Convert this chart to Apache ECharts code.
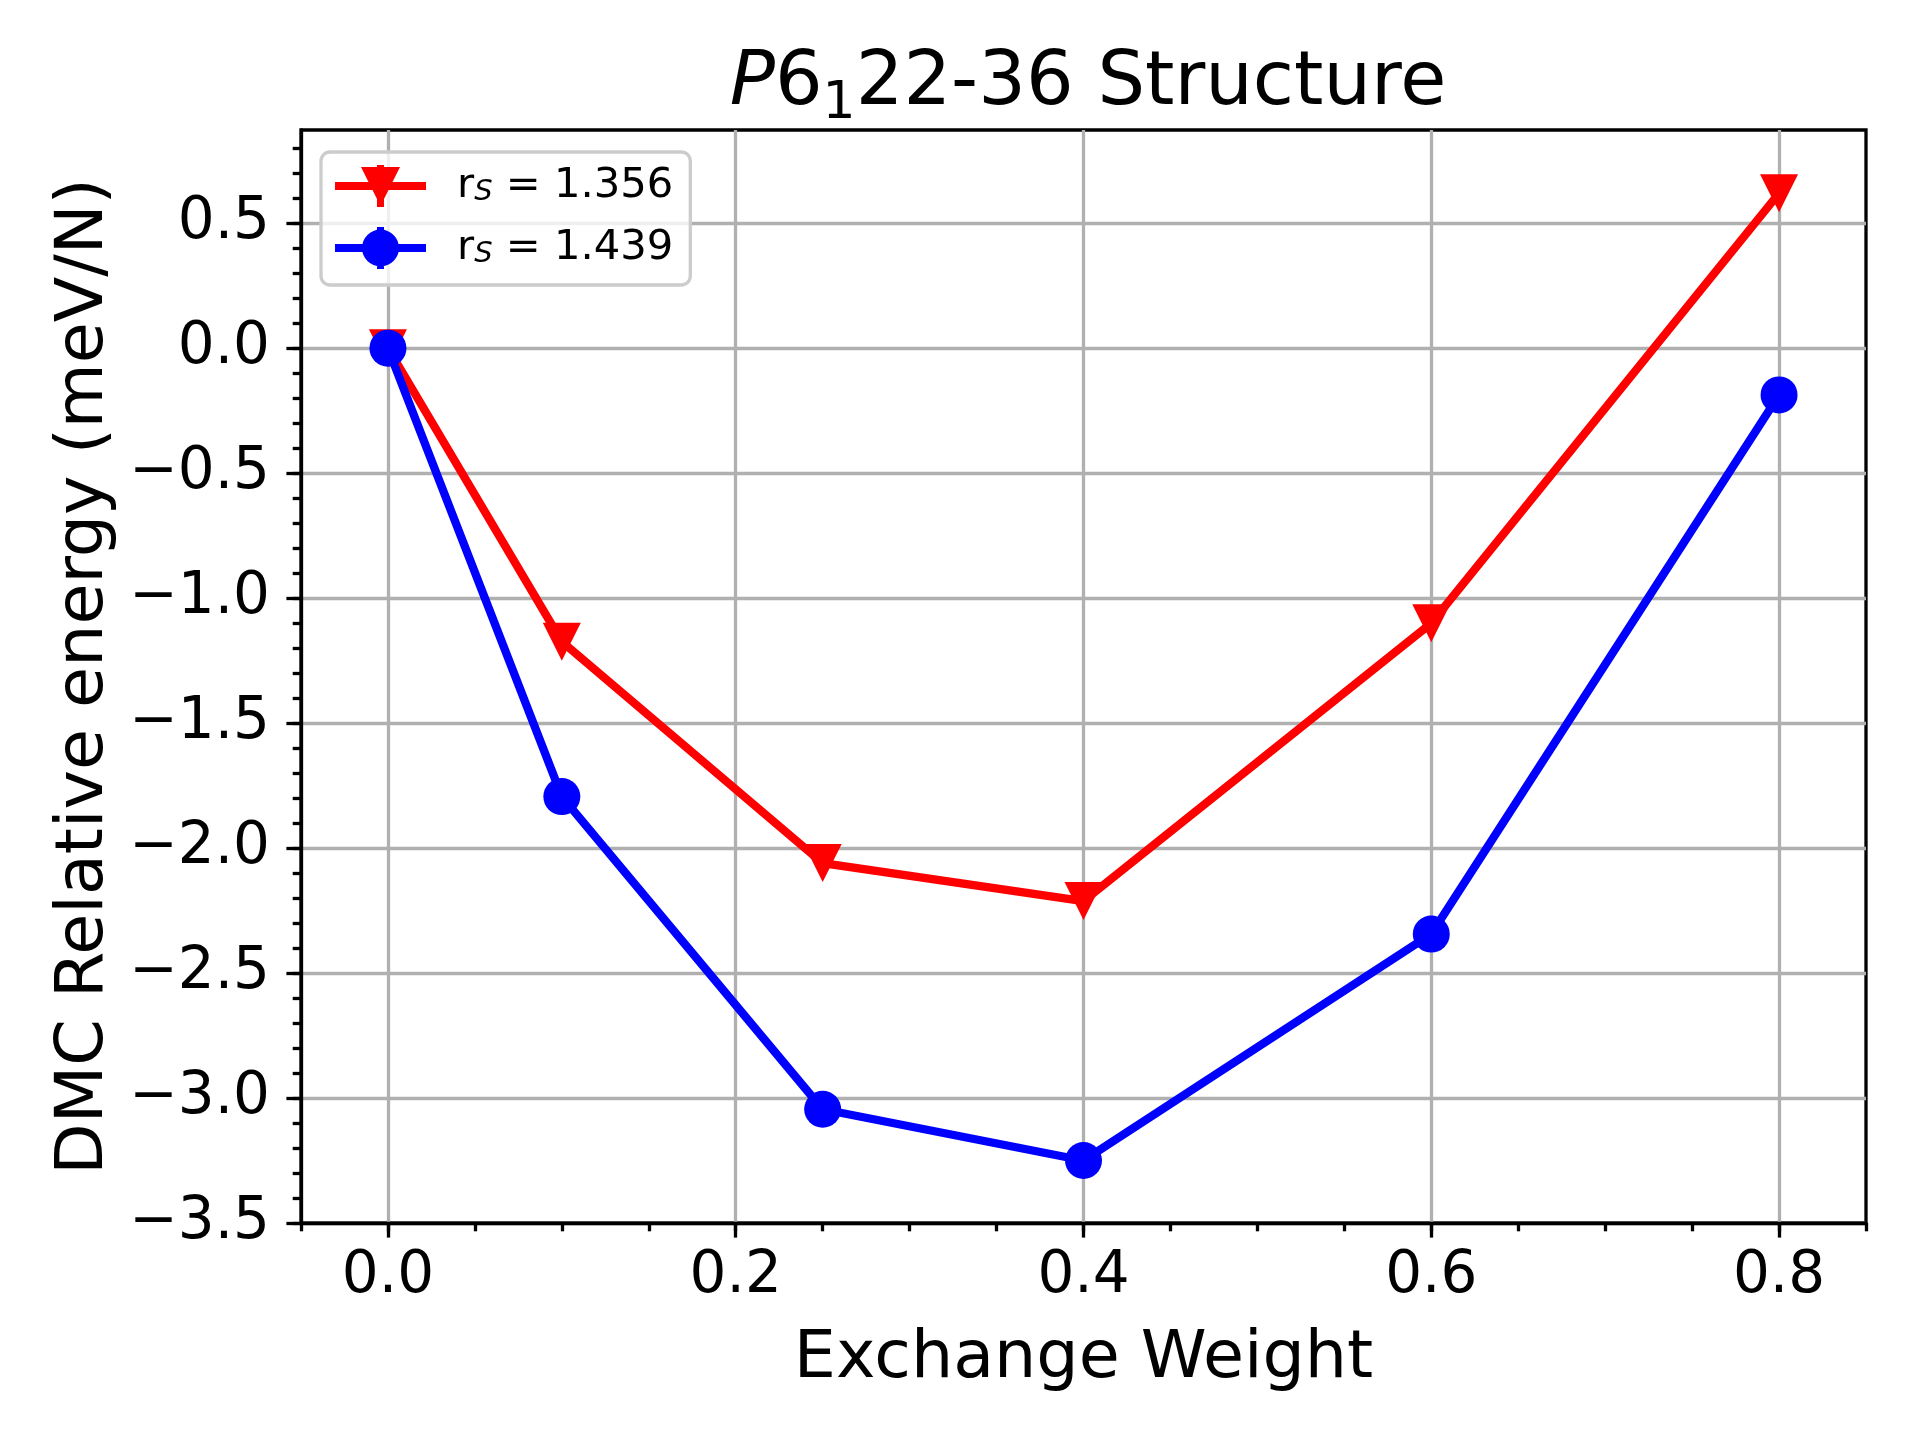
<!DOCTYPE html>
<html>
<head>
<meta charset="utf-8">
<script src="https://cdn.jsdelivr.net/npm/echarts@6/dist/echarts.min.js"></script>
<style>html,body{margin:0;padding:0;background:#fff}#c{width:1920px;height:1440px}</style>
</head>
<body>
<div id="c"></div>
<script>
const xValues = [0.0, 0.1, 0.25, 0.4, 0.6, 0.8];
const redValues = [0.0, -1.174, -2.06, -2.212, -1.10, 0.62];
const blueValues = [0.0, -1.794, -3.045, -3.25, -2.344, -0.187];
const seriesNames = ['rS = 1.356', 'rS = 1.439'];
const xMajorTicks = [0.0, 0.2, 0.4, 0.6, 0.8];
const xMinorTicks = [-0.05, 0.0, 0.05, 0.1, 0.15, 0.2, 0.25, 0.3, 0.35, 0.4, 0.45, 0.5, 0.55, 0.6, 0.65, 0.7, 0.75, 0.8, 0.85];
const yMajorTicks = [-3.5, -3.0, -2.5, -2.0, -1.5, -1.0, -0.5, 0.0, 0.5];
const yMinorTicks = [];
for (let k = -35; k <= 8; k++) yMinorTicks.push(Math.round(k) / 10);

const FONT = 'DejaVu Sans';
const fmt = v => (v < -1e-9 ? '\u2212' : '') + Math.abs(v).toFixed(1);

const redIcon = 'path://M0 17H91V25H0Z M26 2H65L45.5 41Z M42 0H49V42H42Z';
const blueIcon = 'path://M0 17H91V25H0Z M27 21A18.5 18.5 0 1 1 64 21A18.5 18.5 0 1 1 27 21Z M42 0H49V42H42Z';

const chart = echarts.init(document.getElementById('c'), null, {renderer: 'canvas'});
chart.setOption({
  animation: false,
  backgroundColor: '#fff',
  title: {
    text: '{i|P}{n|6}{s|1}{n|22-36 Structure}',
    left: 1083,
    top: 35,
    textAlign: 'center',
    textStyle: {
      fontWeight: 'normal',
      rich: {
        i: {fontFamily: FONT, fontSize: 75, fontStyle: 'italic', fontWeight: 'normal', color: '#000', lineHeight: 90},
        n: {fontFamily: FONT, fontSize: 75, fontWeight: 'normal', color: '#000', lineHeight: 90},
        s: {fontFamily: FONT, fontSize: 52, fontWeight: 'normal', color: '#000', lineHeight: 52, verticalAlign: 'bottom'}
      }
    }
  },
  legend: {
    orient: 'vertical',
    left: 321,
    top: 152,
    padding: [13, 17, 16, 14],
    itemGap: 20,
    itemWidth: 91,
    itemHeight: 42,
    selectedMode: false,
    backgroundColor: 'rgba(255,255,255,0.8)',
    borderColor: '#cccccc',
    borderWidth: 3.3,
    borderRadius: 9,
    data: [{name: seriesNames[0], icon: redIcon}, {name: seriesNames[1], icon: blueIcon}],
    formatter: name => '{r|r}{s|S}{a| = ' + name.split('=')[1].trim() + '}',
    textStyle: {
      rich: {
        r: {fontFamily: FONT, fontSize: 41.7, color: '#000', lineHeight: 42, padding: [0, 0, 0, 26]},
        a: {fontFamily: FONT, fontSize: 41.7, color: '#000', lineHeight: 42},
        s: {fontFamily: FONT, fontSize: 29, fontStyle: 'italic', color: '#000', lineHeight: 30, verticalAlign: 'bottom'}
      }
    }
  },
  grid: {
    left: 301, top: 130, width: 1565, height: 1093,
    show: true, borderColor: '#000', borderWidth: 3.3, backgroundColor: 'transparent',
    containLabel: false, outerBoundsMode: 'none'
  },
  xAxis: [{
    type: 'value', min: -0.05, max: 0.85, splitNumber: 5,
    axisLine: {show: true, onZero: false, lineStyle: {color: '#000', width: 3.3}},
    name: 'Exchange Weight', nameLocation: 'middle', nameGap: 103,
    nameTextStyle: {fontFamily: FONT, fontSize: 66.7, color: '#000'},
    axisTick: {show: true, length: 14.6, lineStyle: {color: '#000', width: 3.3}, customValues: xMajorTicks},
    axisLabel: {show: true, margin: 25, fontFamily: FONT, fontSize: 58, color: '#000', formatter: fmt, customValues: xMajorTicks},
    splitLine: {show: true, lineStyle: {color: '#b0b0b0', width: 3.3}}
  }, {
    type: 'value', min: -0.05, max: 0.85, position: 'bottom', splitNumber: 5,
    axisLine: {show: false, onZero: false},
    axisTick: {show: true, length: 8.3, lineStyle: {color: '#000', width: 3.3}, customValues: xMinorTicks},
    axisLabel: {show: false},
    splitLine: {show: false}
  }],
  yAxis: [{
    type: 'value', min: -3.5, max: 0.873, interval: 0.5,
    axisLine: {show: true, onZero: false, lineStyle: {color: '#000', width: 3.3}},
    name: 'DMC Relative energy (meV/N)', nameLocation: 'middle', nameGap: 183,
    nameTextStyle: {fontFamily: FONT, fontSize: 66.7, color: '#000'},
    axisTick: {show: true, length: 14.6, lineStyle: {color: '#000', width: 3.3}, customValues: yMajorTicks},
    axisLabel: {show: true, margin: 31, fontFamily: FONT, fontSize: 58, color: '#000', formatter: fmt, customValues: yMajorTicks},
    splitLine: {show: true, lineStyle: {color: '#b0b0b0', width: 3.3}}
  }, {
    type: 'value', min: -3.5, max: 0.873, interval: 0.5, position: 'left',
    axisLine: {show: false, onZero: false},
    axisTick: {show: true, length: 8.3, lineStyle: {color: '#000', width: 3.3}, customValues: yMinorTicks},
    axisLabel: {show: false},
    splitLine: {show: false}
  }],
  series: [{
    name: seriesNames[0], type: 'line', xAxisIndex: 0, yAxisIndex: 0,
    data: xValues.map((x, i) => [x, redValues[i]]),
    symbol: 'triangle', symbolRotate: 180, symbolSize: 38,
    itemStyle: {color: '#ff0000'},
    lineStyle: {color: '#ff0000', width: 8.3},
    z: 3
  }, {
    name: seriesNames[1], type: 'line', xAxisIndex: 0, yAxisIndex: 0,
    data: xValues.map((x, i) => [x, blueValues[i]]),
    symbol: 'circle', symbolSize: 37,
    itemStyle: {color: '#0000ff'},
    lineStyle: {color: '#0000ff', width: 8.3},
    z: 4
  }]
});
</script>
</body>
</html>
